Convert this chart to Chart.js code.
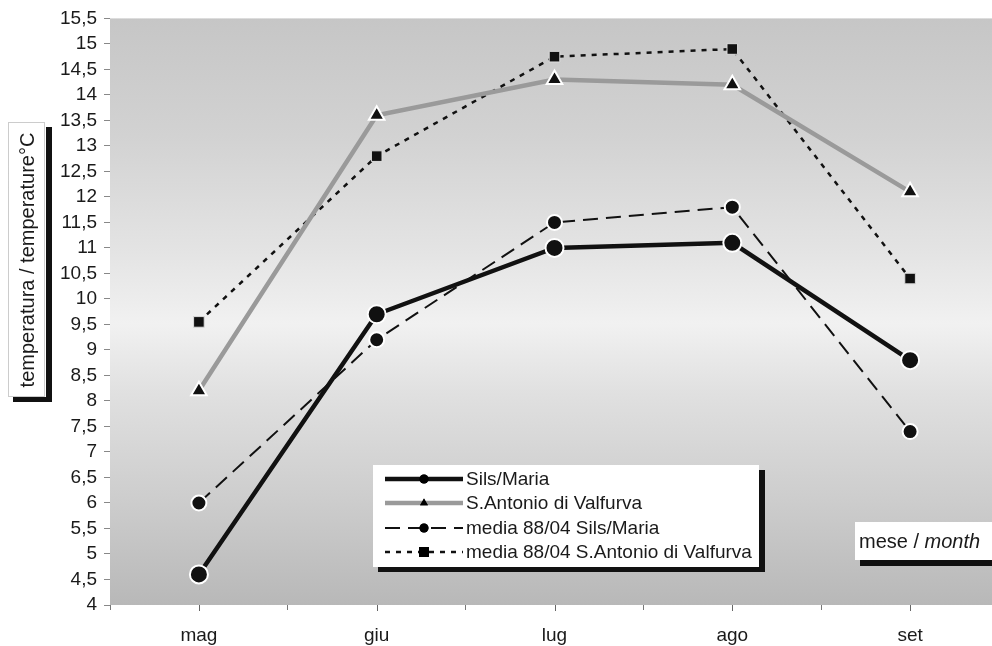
<!DOCTYPE html>
<html>
<head>
<meta charset="utf-8">
<script src="https://cdn.jsdelivr.net/npm/chart.js@4.4.1/dist/chart.umd.min.js"></script>
<style>
  html, body { margin: 0; padding: 0; overflow: hidden; background: #fff; }
  #wrap { width: 1010px; height: 646px; position: relative; }
</style>
</head>
<body>
<div id="wrap"><canvas id="tempChart"></canvas></div>
<script>
const mesi = ["mag", "giu", "lug", "ago", "set"];
const silsMaria = [4.6, 9.7, 11.0, 11.1, 8.8];
const santAntonio = [8.2, 13.6, 14.3, 14.2, 12.1];
const mediaSils = [6.0, 9.2, 11.5, 11.8, 7.4];
const mediaSantAntonio = [9.55, 12.8, 14.75, 14.9, 10.4];
const nomiSerie = ["Sils/Maria", "S.Antonio di Valfurva", "media 88/04 Sils/Maria", "media 88/04 S.Antonio di Valfurva"];

const FONT = "'Liberation Sans', Arial, sans-serif";

//Sfondo grigio dell'area del grafico
const sfondo = {
  id: "sfondo",
  beforeDraw(chart) {
    const { ctx, chartArea: a } = chart;
    const g = ctx.createLinearGradient(0, a.top, 0, a.bottom);
    g.addColorStop(0, "#c6c6c6");
    g.addColorStop(0.2, "#d2d2d2");
    g.addColorStop(0.4, "#e4e4e4");
    g.addColorStop(0.52, "#f1f1f1");
    g.addColorStop(0.64, "#e0e0e0");
    g.addColorStop(0.82, "#cdcdcd");
    g.addColorStop(1, "#b8b8b8");
    ctx.save();
    ctx.fillStyle = g;
    ctx.fillRect(a.left, a.top, a.right - a.left, a.bottom - a.top);
    ctx.restore();
  }
};

//Disegna un segmento di legenda con il suo marcatore
function campioneLegenda(ctx, ds, x0, x1, y) {
  ctx.save();
  ctx.strokeStyle = ds.borderColor;
  ctx.lineWidth = ds.borderWidth;
  ctx.setLineDash(ds.borderDash || []);
  ctx.beginPath();
  ctx.moveTo(x0, y);
  ctx.lineTo(x1, y);
  ctx.stroke();
  ctx.restore();
  ctx.save();
  ctx.fillStyle = "#000";
  Chart.helpers.drawPoint(ctx, {
    pointStyle: ds.pointStyle,
    radius: ds.legendRadius,
    borderWidth: 0
  }, (x0 + x1) / 2, y);
  ctx.fill();
  ctx.restore();
}

//Riquadri: titolo asse y, legenda, mese
const riquadri = {
  id: "riquadri",
  afterDraw(chart) {
    const { ctx } = chart;
    const xs = chart.scales.x;
    const a = chart.chartArea;

    // tacche al centro delle categorie
    ctx.save();
    ctx.strokeStyle = "#666";
    ctx.lineWidth = 1;
    mesi.forEach((m, i) => {
      const px = Math.round(xs.getPixelForValue(i)) + 0.5;
      ctx.beginPath();
      ctx.moveTo(px, a.bottom);
      ctx.lineTo(px, a.bottom + 6);
      ctx.stroke();
    });
    ctx.restore();

    // titolo asse y
    ctx.save();
    ctx.fillStyle = "#111";
    ctx.fillRect(46, 127, 6, 275);
    ctx.fillRect(13, 397, 39, 5);
    ctx.fillStyle = "#fff";
    ctx.fillRect(8, 122, 37, 275);
    ctx.strokeStyle = "#999";
    ctx.setLineDash([1, 1]);
    ctx.strokeRect(8.5, 122.5, 36, 274);
    ctx.setLineDash([]);
    ctx.translate(28, 260);
    ctx.rotate(-Math.PI / 2);
    ctx.fillStyle = "#1a1a1a";
    ctx.font = "20px " + FONT;
    ctx.textAlign = "center";
    ctx.textBaseline = "middle";
    ctx.fillText("temperatura / temperature°C", 0, 0);
    ctx.restore();

    // legenda
    ctx.save();
    ctx.fillStyle = "#111";
    ctx.fillRect(378, 470, 387, 102);
    ctx.fillStyle = "#fff";
    ctx.fillRect(373, 465, 386, 102);
    ctx.font = "19px " + FONT;
    ctx.textBaseline = "middle";
    ctx.textAlign = "left";
    const righe = [479, 503, 528, 552];
    chart.data.datasets.forEach((ds, i) => {
      campioneLegenda(ctx, ds, 385, 463, righe[i]);
      ctx.fillStyle = "#1a1a1a";
      ctx.fillText(ds.label, 466, righe[i] + 1);
    });
    ctx.restore();

    // mese / month
    ctx.save();
    ctx.fillStyle = "#111";
    ctx.fillRect(860, 559, 150, 7);
    ctx.fillStyle = "#fff";
    ctx.fillRect(855, 522, 155, 38);
    ctx.fillStyle = "#1a1a1a";
    ctx.textBaseline = "middle";
    ctx.font = "20px " + FONT;
    ctx.fillText("mese / ", 859, 542);
    const w = ctx.measureText("mese / ").width;
    ctx.font = "italic 20px " + FONT;
    ctx.fillText("month", 859 + w, 542);
    ctx.restore();
  }
};

const data = {
  labels: mesi,
  datasets: [
    {
      label: nomiSerie[0],
      data: silsMaria,
      borderColor: "#111",
      borderWidth: 4.5,
      pointStyle: "circle",
      pointRadius: 9,
      pointBackgroundColor: "#111",
      pointBorderColor: "#fff",
      pointBorderWidth: 2,
      legendRadius: 4.5
    },
    {
      label: nomiSerie[1],
      data: santAntonio,
      borderColor: "#9a9a9a",
      borderWidth: 4.5,
      pointStyle: "triangle",
      pointRadius: 9,
      pointBackgroundColor: "#111",
      pointBorderColor: "#fff",
      pointBorderWidth: 2,
      legendRadius: 4.5
    },
    {
      label: nomiSerie[2],
      data: mediaSils,
      borderColor: "#111",
      borderWidth: 2,
      borderDash: [15, 8],
      pointStyle: "circle",
      pointRadius: 7.5,
      pointBackgroundColor: "#111",
      pointBorderColor: "#fff",
      pointBorderWidth: 2,
      legendRadius: 4.5
    },
    {
      label: nomiSerie[3],
      data: mediaSantAntonio,
      borderColor: "#111",
      borderWidth: 2.5,
      borderDash: [5, 6],
      pointStyle: "rect",
      pointRadius: 7.5,
      pointBackgroundColor: "#111",
      pointBorderColor: "#ddd",
      pointBorderWidth: 1,
      legendRadius: 7
    }
  ]
};

const options = {
  responsive: true,
  maintainAspectRatio: false,
  animation: false,
  layout: { padding: { left: 0, top: 18, right: 9, bottom: 0 } },
  plugins: {
    legend: { display: false },
    tooltip: { enabled: false }
  },
  scales: {
    x: {
      offset: true,
      grid: { display: true, drawOnChartArea: false, offset: true, tickLength: 5, color: "#777" },
      border: { display: false },
      ticks: { font: { family: FONT, size: 19 }, color: "#1a1a1a", padding: 14 },
      afterFit(s) { s.height = 41; }
    },
    y: {
      min: 4,
      max: 15.5,
      grid: { display: true, drawOnChartArea: false, tickLength: 6, color: "#888" },
      border: { display: false },
      ticks: {
        stepSize: 0.5,
        autoSkip: false,
        font: { family: FONT, size: 19 },
        color: "#1a1a1a",
        padding: 7,
        callback: (v) => String(v).replace(".", ",")
      },
      afterFit(s) { s.width = 110; }
    }
  }
};

new Chart("tempChart", { type: "line", data, options, plugins: [sfondo, riquadri] });
</script>
</body>
</html>
